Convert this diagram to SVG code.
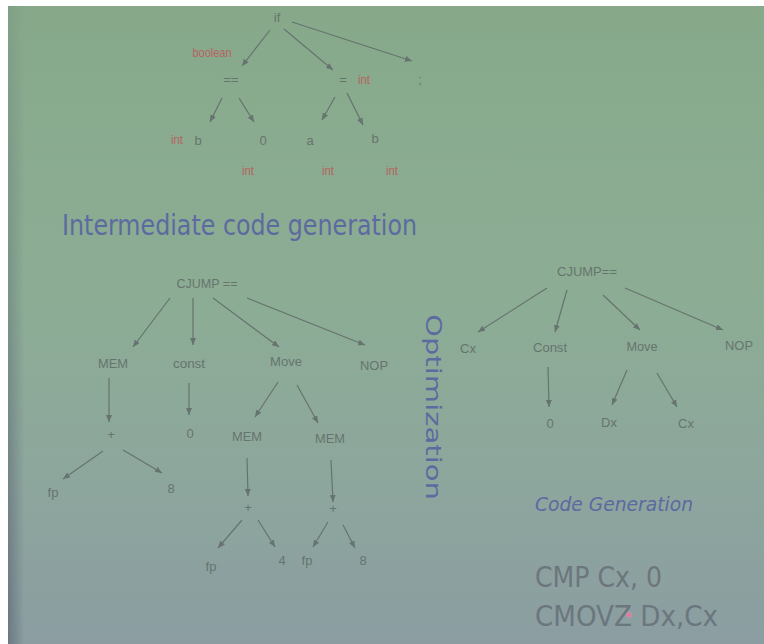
<svg xmlns="http://www.w3.org/2000/svg" width="764" height="644" viewBox="0 0 764 644">
  <defs>
    <linearGradient id="screen" x1="0" y1="0" x2="0" y2="1">
      <stop offset="0" stop-color="#87a98a"/>
      <stop offset="0.45" stop-color="#8cad94"/>
      <stop offset="0.75" stop-color="#8da69d"/>
      <stop offset="1" stop-color="#8b9da1"/>
    </linearGradient>
    <linearGradient id="edge" x1="0" y1="0" x2="1" y2="0">
      <stop offset="0" stop-color="#5e6876" stop-opacity="0.7"/>
      <stop offset="1" stop-color="#5e6876" stop-opacity="0"/>
    </linearGradient>
    <linearGradient id="edgeFade" x1="0" y1="0" x2="0" y2="1">
      <stop offset="0" stop-color="#fff" stop-opacity="0.2"/>
      <stop offset="1" stop-color="#fff" stop-opacity="1"/>
    </linearGradient>
    <mask id="edgeMask">
      <rect x="8" y="6" width="16" height="638" fill="url(#edgeFade)"/>
    </mask>
    <radialGradient id="laser" cx="0.5" cy="0.5" r="0.5">
      <stop offset="0" stop-color="#ff5a8a"/>
      <stop offset="0.5" stop-color="#ff7aa0" stop-opacity="0.7"/>
      <stop offset="1" stop-color="#ff9ab0" stop-opacity="0"/>
    </radialGradient>
    <marker id="arrow" markerUnits="userSpaceOnUse" markerWidth="8" markerHeight="6" refX="7" refY="3" orient="auto">
      <path d="M0,0 L7,3 L0,6 Z" fill="#66736f"/>
    </marker>
  </defs>
  <style>
    .lbl { font-family: "Liberation Sans", Arial, sans-serif; font-size: 13px; fill: #67746e; text-anchor: middle; }
    .typ { font-family: "Liberation Sans", Arial, sans-serif; font-size: 13px; fill: #b86262; text-anchor: middle; }
    .head { font-family: "DejaVu Sans", "Liberation Sans", sans-serif; fill: #5c6aa0; }
    .asm { font-family: "DejaVu Sans", "Liberation Sans", sans-serif; font-size: 29px; fill: #6c767e; }
    .edge line { stroke: #66736f; stroke-width: 1.2; marker-end: url(#arrow); }
  </style>

  <!-- projected slide background -->
  <rect x="0" y="0" width="764" height="644" fill="#ffffff"/>
  <rect x="8" y="6" width="756" height="638" fill="url(#screen)"/>
  <rect x="8" y="6" width="16" height="638" fill="url(#edge)" mask="url(#edgeMask)"/>

  <!-- connectors -->
  <g id="connectors" class="edge">
    <!-- syntax tree -->
    <line x1="270" y1="30" x2="242" y2="66"/>
    <line x1="284" y1="29" x2="333" y2="70"/>
    <line x1="292" y1="22" x2="412" y2="61"/>
    <line x1="222" y1="98" x2="210" y2="122"/>
    <line x1="239" y1="98" x2="254" y2="122"/>
    <line x1="335" y1="97" x2="322" y2="120"/>
    <line x1="347" y1="93" x2="363" y2="125"/>
    <!-- intermediate tree -->
    <line x1="170" y1="298" x2="133" y2="347"/>
    <line x1="193" y1="298" x2="193" y2="345"/>
    <line x1="213" y1="298" x2="279" y2="347"/>
    <line x1="247" y1="298" x2="365" y2="345"/>
    <line x1="109" y1="378" x2="109" y2="422"/>
    <line x1="189" y1="383" x2="189" y2="415"/>
    <line x1="278" y1="382" x2="255" y2="417"/>
    <line x1="297" y1="385" x2="318" y2="423"/>
    <line x1="103" y1="451" x2="63" y2="479"/>
    <line x1="123" y1="450" x2="162" y2="473"/>
    <line x1="247" y1="458" x2="248" y2="496"/>
    <line x1="331" y1="460" x2="333" y2="502"/>
    <line x1="242" y1="520" x2="218" y2="548"/>
    <line x1="258" y1="520" x2="275" y2="547"/>
    <line x1="328" y1="522" x2="313" y2="547"/>
    <line x1="343" y1="525" x2="355" y2="548"/>
    <!-- optimized tree -->
    <line x1="547" y1="288" x2="478" y2="332"/>
    <line x1="567" y1="290" x2="555" y2="332"/>
    <line x1="603" y1="295" x2="640" y2="330"/>
    <line x1="625" y1="288" x2="723" y2="330"/>
    <line x1="548" y1="367" x2="549" y2="407"/>
    <line x1="627" y1="370" x2="612" y2="405"/>
    <line x1="657" y1="373" x2="677" y2="407"/>
  </g>

  <!-- syntax tree nodes -->
  <g id="ast-if"><text class="lbl" x="277" y="22">if</text></g>
  <g id="ast-eqeq"><text class="typ" x="212" y="57" textLength="39" lengthAdjust="spacingAndGlyphs">boolean</text><text class="lbl" x="231" y="84">==</text></g>
  <g id="ast-assign"><text class="lbl" x="343" y="84">=</text><text class="typ" x="364" y="84" textLength="12" lengthAdjust="spacingAndGlyphs">int</text></g>
  <g id="ast-semi"><text class="lbl" x="420" y="84">;</text></g>
  <g id="ast-b1"><text class="typ" x="177" y="144" textLength="12" lengthAdjust="spacingAndGlyphs">int</text><text class="lbl" x="198" y="145">b</text></g>
  <g id="ast-zero"><text class="lbl" x="263" y="145">0</text><text class="typ" x="248" y="175" textLength="12" lengthAdjust="spacingAndGlyphs">int</text></g>
  <g id="ast-a"><text class="lbl" x="310" y="145">a</text><text class="typ" x="328" y="175" textLength="12" lengthAdjust="spacingAndGlyphs">int</text></g>
  <g id="ast-b2"><text class="lbl" x="375" y="143">b</text><text class="typ" x="392" y="175" textLength="12" lengthAdjust="spacingAndGlyphs">int</text></g>

  <!-- heading -->
  <g id="title-ir"><text class="head" x="62" y="235" font-size="28" textLength="355" lengthAdjust="spacingAndGlyphs">Intermediate code generation</text></g>

  <!-- intermediate representation tree -->
  <g id="ir-cjump"><text class="lbl" x="207" y="288" textLength="61" lengthAdjust="spacingAndGlyphs">CJUMP ==</text></g>
  <g id="ir-mem"><text class="lbl" x="113" y="368" textLength="30" lengthAdjust="spacingAndGlyphs">MEM</text></g>
  <g id="ir-const"><text class="lbl" x="189" y="368" textLength="32" lengthAdjust="spacingAndGlyphs">const</text></g>
  <g id="ir-move"><text class="lbl" x="286" y="366" textLength="32" lengthAdjust="spacingAndGlyphs">Move</text></g>
  <g id="ir-nop"><text class="lbl" x="374" y="370" textLength="28" lengthAdjust="spacingAndGlyphs">NOP</text></g>
  <g id="ir-plus1"><text class="lbl" x="111" y="439">+</text></g>
  <g id="ir-zero"><text class="lbl" x="190" y="438">0</text></g>
  <g id="ir-mem2"><text class="lbl" x="247" y="441" textLength="30" lengthAdjust="spacingAndGlyphs">MEM</text></g>
  <g id="ir-mem3"><text class="lbl" x="330" y="443" textLength="30" lengthAdjust="spacingAndGlyphs">MEM</text></g>
  <g id="ir-fp1"><text class="lbl" x="53" y="497">fp</text></g>
  <g id="ir-eight1"><text class="lbl" x="171" y="493">8</text></g>
  <g id="ir-plus2"><text class="lbl" x="248" y="512">+</text></g>
  <g id="ir-plus3"><text class="lbl" x="333" y="513">+</text></g>
  <g id="ir-fp2"><text class="lbl" x="211" y="571">fp</text></g>
  <g id="ir-four"><text class="lbl" x="282" y="565">4</text></g>
  <g id="ir-fp3"><text class="lbl" x="307" y="565">fp</text></g>
  <g id="ir-eight2"><text class="lbl" x="363" y="565">8</text></g>

  <!-- vertical stage label -->
  <g id="title-opt"><text class="head" transform="translate(426,407) rotate(90)" text-anchor="middle" font-size="22" textLength="186" lengthAdjust="spacingAndGlyphs" fill="#5868b0">Optimization</text></g>

  <!-- optimized tree -->
  <g id="opt-cjump"><text class="lbl" x="587" y="276" textLength="60" lengthAdjust="spacingAndGlyphs">CJUMP==</text></g>
  <g id="opt-cx"><text class="lbl" x="468" y="353">Cx</text></g>
  <g id="opt-const"><text class="lbl" x="550" y="352" textLength="34" lengthAdjust="spacingAndGlyphs">Const</text></g>
  <g id="opt-move"><text class="lbl" x="642" y="351" textLength="31" lengthAdjust="spacingAndGlyphs">Move</text></g>
  <g id="opt-nop"><text class="lbl" x="739" y="350" textLength="28" lengthAdjust="spacingAndGlyphs">NOP</text></g>
  <g id="opt-zero"><text class="lbl" x="550" y="428">0</text></g>
  <g id="opt-dx"><text class="lbl" x="609" y="427">Dx</text></g>
  <g id="opt-cx2"><text class="lbl" x="686" y="428">Cx</text></g>

  <!-- code generation -->
  <g id="title-cg"><text class="head" x="535" y="511" font-size="19" font-style="italic" textLength="158" lengthAdjust="spacingAndGlyphs">Code Generation</text></g>
  <g id="asm-cmp"><text class="asm" x="535" y="587" textLength="127" lengthAdjust="spacingAndGlyphs">CMP Cx, 0</text></g>
  <g id="asm-cmovz"><text class="asm" x="535" y="626" textLength="183" lengthAdjust="spacingAndGlyphs">CMOVZ Dx,Cx</text></g>
  <circle cx="629" cy="615" r="3.5" fill="url(#laser)"/>
</svg>
